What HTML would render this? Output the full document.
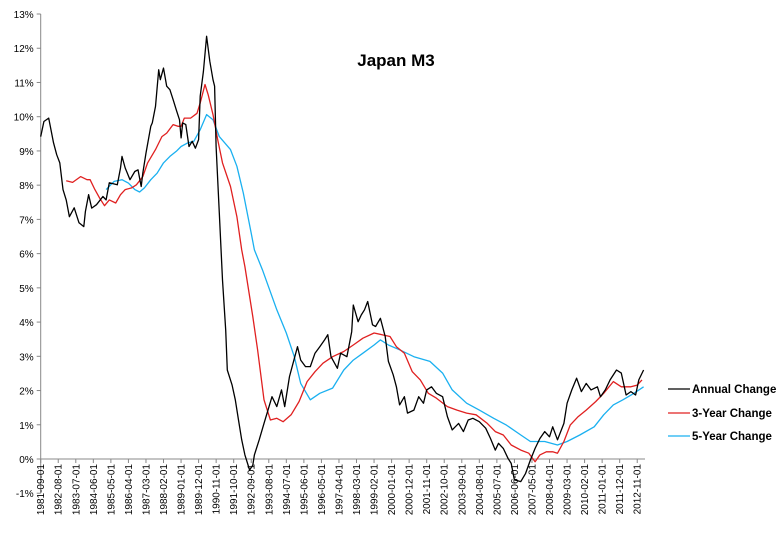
<!DOCTYPE html>
<html><head><meta charset="utf-8"><style>
html,body{margin:0;padding:0;background:#fff;}
svg{display:block;font-family:"Liberation Sans",sans-serif;}
</style></head><body>
<svg id="chart" width="784" height="537" viewBox="0 0 784 537">
<rect x="0" y="0" width="784" height="537" fill="#fff"/>
<text x="396" y="66" text-anchor="middle" font-size="17" font-weight="bold" fill="#000">Japan M3</text>
<g id="axes"></g>
<g id="series"></g>
<g>
<line x1="668" y1="389" x2="690" y2="389" stroke="#000" stroke-width="1.3"/>
<text x="692" y="393" font-size="11.5" font-weight="bold" fill="#000">Annual Change</text>
<line x1="668" y1="413" x2="690" y2="413" stroke="#e02020" stroke-width="1.3"/>
<text x="692" y="417" font-size="11.5" font-weight="bold" fill="#000">3-Year Change</text>
<line x1="668" y1="436" x2="690" y2="436" stroke="#1ab0f0" stroke-width="1.3"/>
<text x="692" y="440" font-size="11.5" font-weight="bold" fill="#000">5-Year Change</text>
</g>
</svg>
<script>
// months since 1981-09 and % values
const annualMonths=[0,2,5,8,10,12,14,16,18,21,24,27,28,30,32,35,39,41,43,48,50,51,53,56,59,61,63,64,66,69,70,72,74,75,77,79,81,83,85,87,88,89,91,93,95,97,99,100,102,104,106,108,109,110,112,114,116,117,120,122,124,126,128,131,133,134,137,140,145,148,151,153,156,161,163,166,169,172,175,178,180,182,186,188,192,195,196,199,201,203,205,208,210,213,216,218,221,223,225,228,230,234,237,240,242,245,248,252,255,258,262,265,268,271,275,279,282,285,287,290,293,295,297,301,304,307,310,313,316,319,321,324,328,330,333,336,339,342,345,349,351,354,357,361,364,367,370,373,375,378];
const annualValues=[9.42,9.86,9.96,9.24,8.89,8.65,7.87,7.57,7.08,7.34,6.9,6.79,7.23,7.72,7.33,7.43,7.67,7.57,8.07,8.01,8.5,8.84,8.5,8.16,8.4,8.45,7.96,8.35,8.94,9.72,9.82,10.3,11.37,11.08,11.42,10.89,10.79,10.5,10.2,9.91,9.38,9.82,9.77,9.13,9.28,9.08,9.33,10.6,11.32,12.35,11.62,11.08,10.89,9.13,7.19,5.23,3.77,2.6,2.16,1.73,1.14,0.56,0.12,-0.32,-0.18,0.12,0.56,1.04,1.82,1.53,2.02,1.53,2.41,3.28,2.89,2.7,2.7,3.09,3.28,3.48,3.63,2.99,2.65,3.09,2.99,3.72,4.5,4.01,4.21,4.36,4.6,3.92,3.87,4.11,3.58,2.85,2.46,2.11,1.58,1.82,1.34,1.43,1.82,1.63,2.02,2.11,1.92,1.82,1.24,0.85,1.04,0.8,1.14,1.19,1.09,0.9,0.6,0.26,0.46,0.31,0.02,-0.13,-0.61,-0.66,-0.42,-0.03,0.31,0.6,0.8,0.65,0.94,0.56,1.04,1.63,2.02,2.36,1.97,2.21,2.02,2.11,1.82,2.02,2.31,2.6,2.51,1.87,1.97,1.87,2.31,2.6];
const threeYrMonths=[16,20,25,29,31,34,37,40,43,47,50,53,57,60,64,67,72,76,79,83,86,88,90,94,98,100,103,105,108,111,114,119,123,126,128,133,136,140,144,148,152,157,162,167,172,177,183,190,196,202,209,214,219,223,228,233,238,243,248,255,261,267,273,280,285,290,295,301,306,310,313,317,321,324,328,332,337,342,348,353,359,364,370,374,377];
const threeYrValues=[8.13,8.08,8.25,8.16,8.16,7.87,7.62,7.4,7.57,7.48,7.72,7.87,7.92,8.01,8.25,8.65,9.04,9.42,9.52,9.77,9.72,9.72,9.96,9.96,10.1,10.4,10.94,10.64,10.06,9.33,8.65,7.96,7.08,6.11,5.62,4.16,3.19,1.73,1.14,1.19,1.09,1.29,1.68,2.26,2.55,2.8,2.99,3.14,3.33,3.53,3.68,3.63,3.58,3.28,3.09,2.55,2.31,1.92,1.78,1.53,1.43,1.34,1.29,1.04,0.8,0.7,0.41,0.26,0.17,-0.08,0.12,0.21,0.21,0.17,0.51,0.99,1.24,1.43,1.68,1.92,2.26,2.11,2.11,2.16,2.31];
const fiveYrMonths=[41,46,51,55,59,62,65,69,73,77,81,85,88,92,96,100,104,108,112,119,123,127,132,134,139,148,154,159,163,169,175,183,190,196,202,209,213,218,225,234,244,252,258,267,275,284,292,301,307,316,324,330,338,347,353,359,365,372,378];
const fiveYrValues=[7.87,8.11,8.16,8.06,7.87,7.8,7.92,8.16,8.35,8.65,8.84,8.99,9.13,9.23,9.28,9.62,10.06,9.91,9.42,9.04,8.55,7.77,6.6,6.11,5.53,4.36,3.68,2.99,2.21,1.73,1.92,2.07,2.6,2.89,3.09,3.33,3.48,3.33,3.19,2.99,2.85,2.51,2.02,1.63,1.43,1.19,0.99,0.7,0.51,0.51,0.41,0.51,0.7,0.94,1.29,1.58,1.73,1.92,2.11];
const yTicks=[-1,0,1,2,3,4,5,6,7,8,9,10,11,12,13];
const xTickLabels=["1981-09-01","1982-08-01","1983-07-01","1984-06-01","1985-05-01","1986-04-01","1987-03-01","1988-02-01","1989-01-01","1989-12-01","1990-11-01","1991-10-01","1992-09-01","1993-08-01","1994-07-01","1995-06-01","1996-05-01","1997-04-01","1998-03-01","1999-02-01","2000-01-01","2000-12-01","2001-11-01","2002-10-01","2003-09-01","2004-08-01","2005-07-01","2006-06-01","2007-05-01","2008-04-01","2009-03-01","2010-02-01","2011-01-01","2011-12-01","2012-11-01"];
const tickStepMonths=11;

const NS="http://www.w3.org/2000/svg";
const X0=40.7, PXM=1.595, Y0=459, PXP=34.23;
function xs(m){return X0+m*PXM;}
function ys(v){return Y0-v*PXP;}
function mk(tag,attrs,parent){const e=document.createElementNS(NS,tag);for(const k in attrs)e.setAttribute(k,attrs[k]);parent.appendChild(e);return e;}

const axes=document.getElementById('axes');
const yax=mk('line',{x1:X0,y1:ys(13),x2:X0,y2:ys(-1),stroke:'#888','stroke-width':1},axes);


yTicks.forEach(v=>{
  const t=mk('line',{x1:X0-4,y1:ys(v),x2:X0,y2:ys(v),stroke:'#888'},axes);
  
  
  const l=mk('text',{x:X0-7,y:ys(v)+4,'text-anchor':'end','font-size':10,fill:'#000'},axes);
  l.textContent=v+'%';
  
  
});
const xax=mk('line',{x1:X0,y1:Y0,x2:645,y2:Y0,stroke:'#888','stroke-width':1},axes);


xTickLabels.forEach((s,i)=>{
  const x=xs(i*tickStepMonths);
  const t=mk('line',{x1:x,y1:Y0,x2:x,y2:Y0+4,stroke:'#888'},axes);
  
  
  const l=mk('text',{x:0,y:0,'text-anchor':'end','font-size':10,fill:'#000',transform:`translate(${x+3.5},${Y0+5}) rotate(-90)`},axes);
  l.textContent=s;
  
  
});

const series=document.getElementById('series');
function line(ms,vs,color,name){
  const d=ms.map((m,i)=>(i?'L':'M')+xs(m).toFixed(1)+','+ys(vs[i]).toFixed(1)).join(' ');
  const p=mk('path',{d:d,fill:'none',stroke:color,'stroke-width':1.3,'stroke-linejoin':'round'},series);
  
  
}
line(fiveYrMonths,fiveYrValues,'#1ab0f0','five-year-change-line');
line(threeYrMonths,threeYrValues,'#e02020','three-year-change-line');
line(annualMonths,annualValues,'#000','annual-change-line');
</script>
</body></html>
